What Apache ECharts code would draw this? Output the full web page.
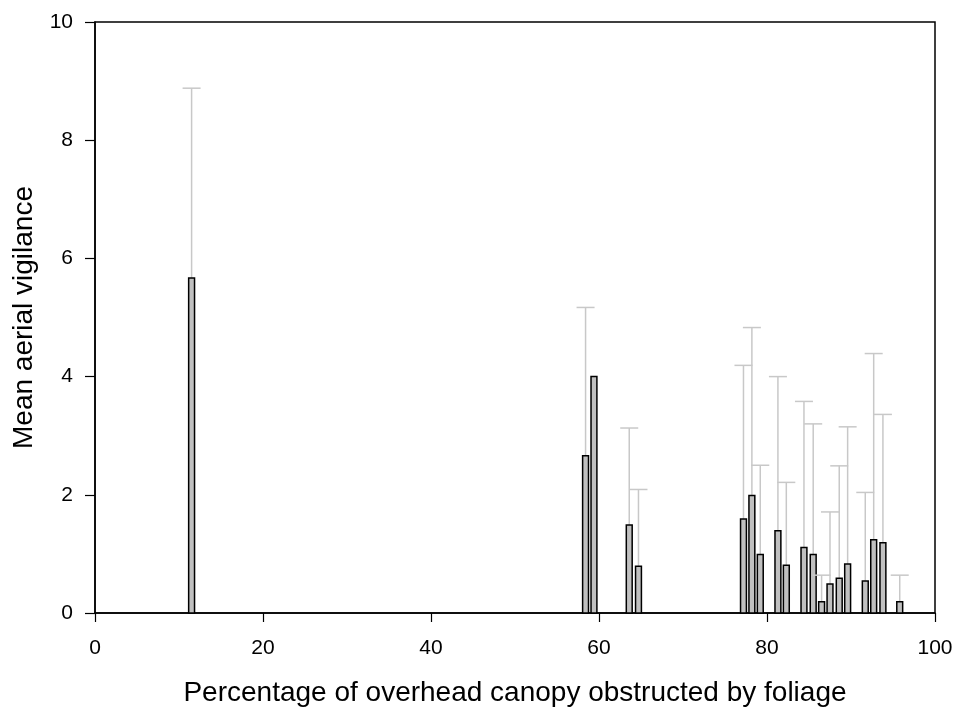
<!DOCTYPE html>
<html>
<head>
<meta charset="utf-8">
<script src="https://cdn.jsdelivr.net/npm/echarts@6/dist/echarts.min.js"></script>
<style>html,body{margin:0;padding:0;background:#fff}#c{width:957px;height:713px}</style>
</head>
<body>
<div id="c"></div>
<script>
// Percentage of overhead canopy obstructed (bar positions)
const canopy = [11.5, 58.4, 59.4, 63.6, 64.7, 77.2, 78.2, 79.2, 81.3, 82.3, 84.4, 85.5, 86.5, 87.5, 88.6, 89.6, 91.7, 92.7, 93.8, 95.8];
// Mean aerial vigilance
const meanVig = [5.67, 2.66, 4.0, 1.49, 0.79, 1.59, 1.99, 0.99, 1.39, 0.81, 1.11, 0.99, 0.19, 0.49, 0.59, 0.83, 0.54, 1.24, 1.19, 0.19];
// Upper end of error bar (null = none)
const errTop = [8.88, 5.17, null, 3.13, 2.09, 4.19, 4.83, 2.5, 4.0, 2.21, 3.58, 3.2, 0.64, 1.71, 2.49, 3.15, 2.04, 4.39, 3.36, 0.64];
const xTicks = [0, 20, 40, 60, 80, 100];
const yTicks = [0, 2, 4, 6, 8, 10];
const barWidthUnits = 0.7;

const data = canopy.map((x, i) => [x, meanVig[i], errTop[i]]);

const chart = echarts.init(document.getElementById('c'));
const font = 'Liberation Sans, Arial, Helvetica, sans-serif';
chart.setOption({
  animation: false,
  grid: { left: 95, right: 22, top: 22, bottom: 100, show: true, borderColor: '#000', borderWidth: 1.5, backgroundColor: 'transparent' },
  xAxis: {
    type: 'value', min: xTicks[0], max: xTicks[xTicks.length - 1], interval: 20,
    name: 'Percentage of overhead canopy obstructed by foliage',
    nameLocation: 'middle', nameGap: 66,
    nameTextStyle: { fontFamily: font, fontSize: 28, color: '#000', verticalAlign: 'top' },
    axisLine: { show: true, lineStyle: { color: '#000', width: 1.5 } },
    axisTick: { show: true, inside: false, length: 9, lineStyle: { color: '#000', width: 1.2 } },
    axisLabel: { fontFamily: font, fontSize: 21, color: '#000', margin: 25 },
    splitLine: { show: false }
  },
  yAxis: {
    type: 'value', min: yTicks[0], max: yTicks[yTicks.length - 1], interval: 2,
    name: 'Mean aerial vigilance',
    nameLocation: 'middle', nameGap: 44,
    nameTextStyle: { fontFamily: font, fontSize: 28, color: '#000' },
    axisLine: { show: true, lineStyle: { color: '#000', width: 1.5 } },
    axisTick: { show: true, inside: false, length: 10, lineStyle: { color: '#000', width: 1.2 } },
    axisLabel: { fontFamily: font, fontSize: 21, color: '#000', margin: 22 },
    splitLine: { show: false }
  },
  series: [
    {
      type: 'custom',
      data: data,
      z: 2,
      renderItem: function (params, api) {
        const x = api.value(0), y = api.value(1), e = api.value(2);
        const base = api.coord([x, 0]);
        const top = api.coord([x, y]);
        const w = api.size([barWidthUnits, 0])[0];
        const children = [];
        if (e !== null && e !== undefined && !isNaN(e)) {
          const et = api.coord([x, e]);
          children.push({
            type: 'line', shape: { x1: top[0], y1: top[1], x2: et[0], y2: et[1] },
            style: { stroke: '#c8c8c8', lineWidth: 1.5 }
          });
          children.push({
            type: 'line', shape: { x1: et[0] - 9, y1: et[1], x2: et[0] + 9, y2: et[1] },
            style: { stroke: '#c8c8c8', lineWidth: 1.5 }
          });
        }
        children.push({
          type: 'rect',
          shape: { x: base[0] - w / 2, y: top[1], width: w, height: base[1] - top[1] },
          style: { fill: '#c0c0c0', stroke: '#000', lineWidth: 1.5 }
        });
        return { type: 'group', children: children };
      }
    }
  ]
});
</script>
</body>
</html>
